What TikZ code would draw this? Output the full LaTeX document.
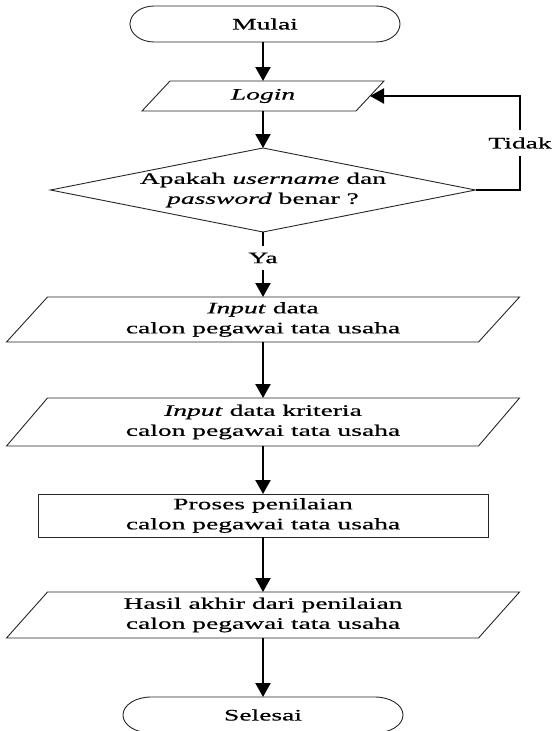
\documentclass[tikz,border=0pt]{standalone}
\usepackage{fontspec}
\setmainfont[FakeStretch=1.72,FakeBold=0.6]{Liberation Serif}
\usetikzlibrary{arrows.meta,calc}
\newcommand\termshape[2]{\draw[shp] ([xshift=#2]#1.north west) -- ([xshift=-#2]#1.north east) arc[start angle=90,end angle=-90,x radius=#2,y radius=18pt] -- ([xshift=#2]#1.south west) arc[start angle=270,end angle=90,x radius=#2,y radius=18pt] -- cycle;}
\newcommand\paralshape[2]{\draw[shp] ([xshift=#2]#1.north west) -- (#1.north east) -- ([xshift=-#2]#1.south east) -- (#1.south west) -- cycle;}
\begin{document}
\begin{tikzpicture}[x=1pt,y=-1pt,
  txt/.style={font=\fontsize{16}{20}\selectfont, align=center},
  frame/.style={txt, draw=none, inner sep=0pt, outer sep=0pt},
  shp/.style={draw=black!85, line width=0.9pt},
  arr/.style={line width=2.2pt, -{Triangle[width=15pt,length=14pt]}},
  lab/.style={txt, fill=white, inner xsep=2pt, inner ysep=7pt}]
\useasboundingbox (0,0) rectangle (553,731);

\node[frame, minimum width=270pt, minimum height=36pt] (mulai) at (265,24) {Mulai};
\termshape{mulai}{24pt}

\node[frame, minimum width=242pt, minimum height=30pt] (login) at (263,96) {\textit{Login}};
\paralshape{login}{28pt}

\node[frame, minimum width=425pt, minimum height=84pt] (dec) at (263,190) {Apakah \textit{username} dan\\\textit{password} benar ?};
\draw[shp] (dec.west) -- (dec.north) -- (dec.east) -- (dec.south) -- cycle;

\node[frame, minimum width=513pt, minimum height=45pt] (inp1) at (263,319.5) {\textit{Input} data\\calon pegawai tata usaha};
\paralshape{inp1}{41pt}

\node[frame, minimum width=513pt, minimum height=48pt] (inp2) at (263,422) {\textit{Input} data kriteria\\calon pegawai tata usaha};
\paralshape{inp2}{41pt}

\node[frame, shp, minimum width=450pt, minimum height=43pt] (proc) at (263,515.5) {Proses penilaian\\calon pegawai tata usaha};

\node[frame, minimum width=513pt, minimum height=46pt] (hasil) at (263,615) {Hasil akhir dari penilaian\\calon pegawai tata usaha};
\paralshape{hasil}{41pt}

\node[frame, minimum width=280pt, minimum height=36pt] (selesai) at (263,715) {Selesai};
\termshape{selesai}{28pt}

\coordinate (tr) at (520,190);
\coordinate (tl) at (520,96);
\coordinate (loginr) at ($(login.east)+(-14,0)$);

\draw[arr] ([xshift=-2pt]mulai.south) -- (login.north);
\draw[arr] (login.south) -- (dec.north);
\draw[arr] (dec.east) -- (tr) -- node[lab]{Tidak} (tl) -- (loginr);
\draw[arr] (dec.south) -- node[lab, pos=0.4]{Ya} (inp1.north);
\draw[arr] (inp1.south) -- (inp2.north);
\draw[arr] (inp2.south) -- (proc.north);
\draw[arr] (proc.south) -- (hasil.north);
\draw[arr] (hasil.south) -- (selesai.north);
\end{tikzpicture}
\end{document}
